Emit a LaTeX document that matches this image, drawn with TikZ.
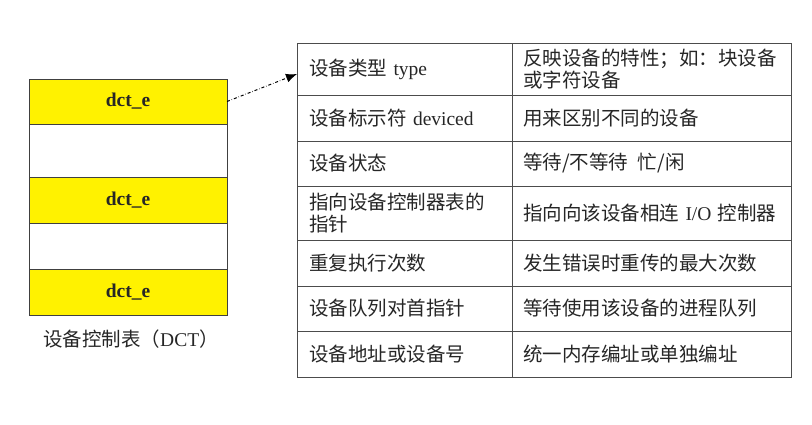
\documentclass[tikz,border=0pt]{standalone}
\usepackage{fontspec}
\setmainfont{Liberation Serif}
\newfontfamily\cjk{Noto Sans CJK SC}
\usetikzlibrary{positioning,arrows.meta}

\def\ux{1pt}
\def\uy{-1pt}
\newcommand\en[1]{{\rmfamily #1}}

\begin{document}
\begin{tikzpicture}[x=\ux,y=\uy, font=\cjk\fontsize{19.5}{22.5}\selectfont, text=black!85,
	slot/.style={draw=black!75, line width=0.8pt, fill=white, minimum width=198pt, inner sep=0pt, outer sep=0pt,
		anchor=north west, font=\rmfamily\bfseries\fontsize{19.5}{22}\selectfont},
	entry/.style={slot, fill=yellow},
	field/.style={draw=black!70, line width=0.8pt, anchor=north west, align=left, text width=191pt,
		inner xsep=12pt, inner ysep=0pt, outer sep=0pt},
	descr/.style={field, text width=257pt, inner xsep=11pt}]
		\useasboundingbox (0,0) rectangle (812,425);

		% device control table
		\node[entry, minimum height=45pt] (dct1) at (29,79) {dct\_e};
		\node[slot, minimum height=53pt, below=0pt of dct1] (gap1) {};
		\node[entry, minimum height=46pt, below=0pt of gap1] (dct2) {dct\_e};
		\node[slot, minimum height=46pt, below=0pt of dct2] (gap2) {};
		\node[entry, minimum height=46pt, below=0pt of gap2] (dct3) {dct\_e};
		\node[below=11pt of dct3, xshift=3pt] (dctcap) {设备控制表（\en{DCT}）};

		% one entry
		\node[field, minimum height=52pt] (type) at (297,43) {设备类型\en{ type}};
		\node[descr, minimum height=52pt, right=0pt of type] (typeinfo) {反映设备的特性；如：块设备\\或字符设备};
		\node[field, minimum height=46pt, below=0pt of type] (devid) {设备标示符\en{ deviced}};
		\node[descr, minimum height=46pt, right=0pt of devid] (devidinfo) {用来区别不同的设备};
		\node[field, minimum height=45pt, below=0pt of devid] (state) {设备状态};
		\node[descr, minimum height=45pt, right=0pt of state] (stateinfo) {等待/不等待\hspace{0.5em}忙/闲};
		\node[field, minimum height=54pt, below=0pt of state] (ctrl) {指向设备控制器表的\\指针};
		\node[descr, minimum height=54pt, right=0pt of ctrl] (ctrlinfo) {指向向该设备相连\en{ I/O }控制器};
		\node[field, minimum height=46pt, below=0pt of ctrl] (retry) {重复执行次数};
		\node[descr, minimum height=46pt, right=0pt of retry] (retryinfo) {发生错误时重传的最大次数};
		\node[field, minimum height=45pt, below=0pt of retry] (queue) {设备队列对首指针};
		\node[descr, minimum height=45pt, right=0pt of queue] (queueinfo) {等待使用该设备的进程队列};
		\node[field, minimum height=46pt, below=0pt of queue] (addr) {设备地址或设备号};
		\node[descr, minimum height=46pt, right=0pt of addr] (addrinfo) {统一内存编址或单独编址};

		\draw[dash dot, line width=1pt, -{Latex[length=11pt,width=9pt]}] (dct1.east) -- ([yshift=-5pt]type.west);
\end{tikzpicture}
\end{document}
